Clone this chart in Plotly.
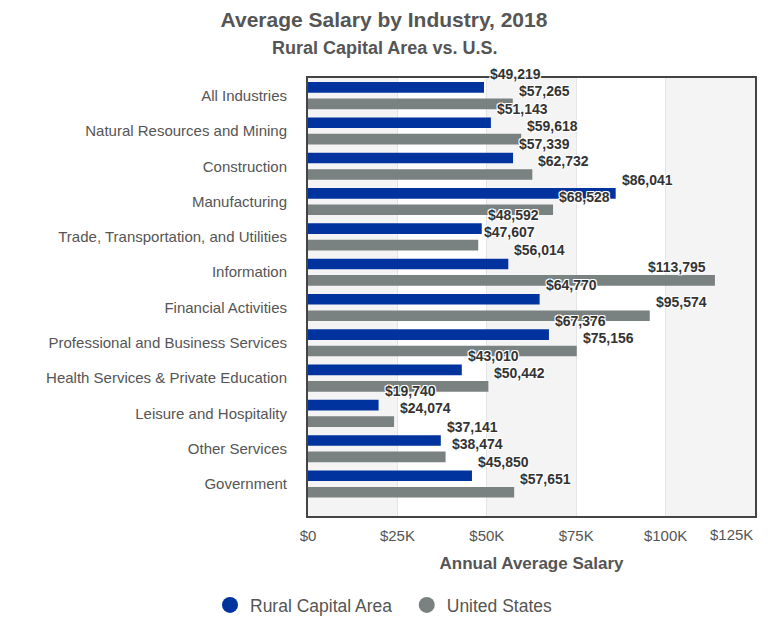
import plotly.graph_objects as go

categories = ["All Industries", "Natural Resources and Mining", "Construction", "Manufacturing",
              "Trade, Transportation, and Utilities", "Information", "Financial Activities",
              "Professional and Business Services", "Health Services & Private Education",
              "Leisure and Hospitality", "Other Services", "Government"]
rural = [49219, 51143, 57339, 86041, 48592, 56014, 64770, 67376, 43010, 19740, 37141, 45850]
us = [57265, 59618, 62732, 68528, 47607, 113795, 95574, 75156, 50442, 24074, 38474, 57651]
tick_vals = [0, 25000, 50000, 75000, 100000, 125000]
tick_text = ["$0", "$25K", "$50K", "$75K", "$100K", "$125K"]

BLUE = "#00339e"
GRAY = "#7a8181"
FONT = "Liberation Sans, Arial, Helvetica, sans-serif"
XMAX = tick_vals[-1]
TICKFONT = dict(family=FONT, size=15, color="#555555")

fig = go.Figure()
fig.add_trace(go.Bar(y=categories, x=rural, orientation="h", name="Rural Capital Area",
                     marker=dict(color=BLUE, line=dict(width=0)), showlegend=False))
fig.add_trace(go.Bar(y=categories, x=us, orientation="h", name="United States",
                     marker=dict(color=GRAY, line=dict(width=0)), showlegend=False))
# legend entries with circle markers
for name, col in [("Rural Capital Area" + "\u00a0" * 2, BLUE), ("United States", GRAY)]:
    fig.add_trace(go.Scatter(x=[None], y=[None], mode="markers", name=name,
                             marker=dict(symbol="circle", size=19, color=col)))

shadow = "1px 1px 0 #fff, -1px -1px 0 #fff, 1px -1px 0 #fff, -1px 1px 0 #fff"
annos = []
for series, ys in [(rural, 22), (us, 5)]:
    for c, v in zip(categories, series):
        inside = v > XMAX * 0.88  # label would overflow plot: keep it inside (right-aligned)
        annos.append(dict(x=v, y=c, xref="x", yref="y", text=f"${v:,}", showarrow=False,
                          xanchor="right" if inside else "left", yanchor="middle",
                          xshift=-7 if inside else 4, yshift=ys,
                          font=dict(family=FONT, size=14, color="#333333", weight="bold", shadow=shadow)))
annos.append(dict(x=0.171, y=1.068, xref="paper", yref="paper", text="Rural Capital Area vs. U.S.",
                  showarrow=False, xanchor="center", yanchor="middle",
                  font=dict(family=FONT, size=18, color="#555555", weight="bold")))
# last tick label kept inside the chart (right-aligned to the axis end)
annos.append(dict(x=tick_vals[-1], y=0, xref="x", yref="paper", text=tick_text[-1], showarrow=False,
                  xanchor="right", yanchor="middle", xshift=0, yshift=-18, font=TICKFONT))
shown_ticktext = tick_text[:-1] + [""]

shapes = []
for i in range(0, len(tick_vals) - 1, 2):
    shapes.append(dict(type="rect", xref="x", yref="paper", x0=tick_vals[i], x1=tick_vals[i + 1],
                       y0=0, y1=1, fillcolor="#f4f4f4", line=dict(width=0), layer="below"))

fig.update_layout(
    width=768, height=640,
    margin=dict(l=307.5, r=13, t=78, b=124, autoexpand=False),
    paper_bgcolor="white", plot_bgcolor="white",
    barmode="group", bargap=0.068, bargroupgap=0.353,
    title=dict(text="Average Salary by Industry, 2018", x=0.5, xref="container", xanchor="center",
               y=1 - 20 / 640, yref="container", yanchor="middle",
               font=dict(family=FONT, size=21, color="#555555", weight="bold")),
    xaxis=dict(range=[0, XMAX], tickvals=tick_vals, ticktext=shown_ticktext, showgrid=True,
               gridcolor="#e4e4e4", gridwidth=1, zeroline=False, showline=True, mirror=True,
               linecolor="#444444", linewidth=2, ticks="", ticklabelstandoff=5,
               tickfont=TICKFONT,
               title=dict(text="Annual Average Salary", standoff=14,
                          font=dict(family=FONT, size=17, color="#555555", weight="bold"))),
    yaxis=dict(autorange="reversed", showline=True, mirror=True, linecolor="#444444", linewidth=2,
               showgrid=False, ticks="", ticklabelstandoff=16,
               tickfont=TICKFONT),
    legend=dict(orientation="h", xref="container", yref="container", x=0.5, xanchor="center",
                y=(640 - 605) / 640, yanchor="middle",
                font=dict(family=FONT, size=17.5, color="#555555")),
    annotations=annos, shapes=shapes,
)

fig.write_html("out.html")
